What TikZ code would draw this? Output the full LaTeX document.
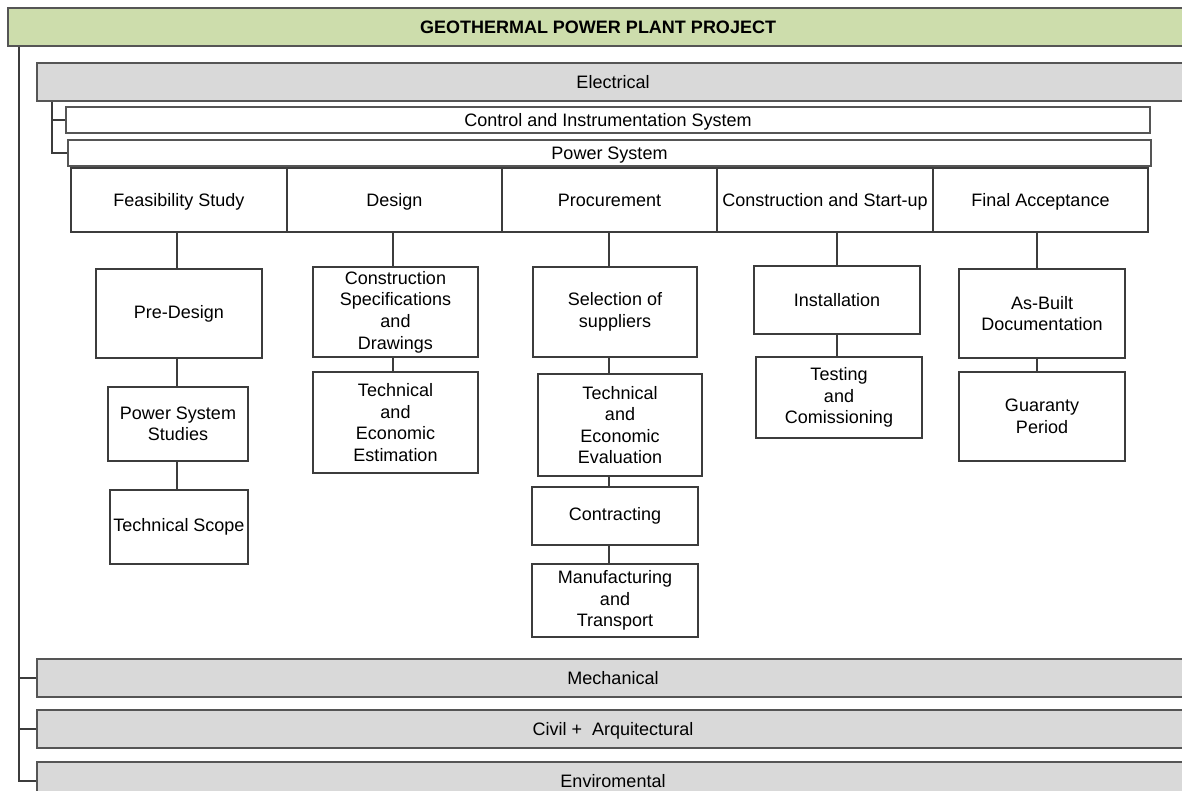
\documentclass[tikz,border=0pt]{standalone}
\usepackage{fontspec}
\setmainfont{Liberation Sans}
\definecolor{lc}{RGB}{60,60,60}
\definecolor{barline}{RGB}{85,85,85}
\definecolor{greenfill}{RGB}{205,221,172}
\definecolor{grayfill}{RGB}{217,217,217}
\tikzset{
  box/.style={draw=lc, line width=0.75pt, fill=white, inner sep=0pt, align=center,
    font=\fontsize{9}{10.8}\selectfont},
  bar/.style={draw=barline, line width=0.9pt, fill=grayfill, inner sep=0pt,
    font=\fontsize{9}{10.8}\selectfont, minimum width=576pt, minimum height=19pt,
    text height=7.4pt, text depth=1pt},
  titlebar/.style={draw=barline, line width=0.9pt, fill=greenfill, inner sep=0pt,
    font=\bfseries\fontsize{9}{10.8}\selectfont, text height=7.4pt, text depth=1pt},
  wide/.style={draw=barline, line width=0.9pt, fill=white, inner sep=0pt,
    font=\fontsize{9}{10.8}\selectfont, text height=7.4pt, text depth=1pt},
  phase/.style={draw=lc, line width=0.75pt, fill=white, inner sep=0pt,
    font=\fontsize{9}{10.8}\selectfont, minimum height=32pt,
    text height=7.4pt, text depth=1pt},
  conn/.style={draw=lc, line width=0.75pt}
}
\begin{document}
\begin{tikzpicture}[x=0.5pt,y=-0.5pt]
\useasboundingbox (0,0) rectangle (1182,791);
\clip (0,0) rectangle (1182,791);
\fill[white] (0,0) rectangle (1182,791);

% top and main bars
\node[titlebar, minimum width=590pt, minimum height=19pt] (proj) at (598,27) {GEOTHERMAL POWER PLANT PROJECT};
\node[bar] (elec) at (613,82) {Electrical};
\node[wide, minimum width=542pt, minimum height=13pt] (ctrl) at (608,120) {Control and Instrumentation System};
\node[wide, minimum width=541.5pt, minimum height=13pt] (psys) at (609.5,153) {Power System};

% phases
\node[phase, minimum width=108pt] (feas) at (179,200) {Feasibility Study};
\node[phase, minimum width=107.5pt] (des) at (394.5,200) {Design};
\node[phase, minimum width=107.5pt] (proc) at (609.5,200) {Procurement};
\node[phase, minimum width=108pt] (cons) at (825,200) {Construction and Start-up};
\node[phase, minimum width=107.5pt] (fin) at (1040.5,200) {Final Acceptance};

% feasibility children
\node[box, minimum width=83pt, minimum height=44.5pt] (pre) at (179,313.5) {Pre-Design};
\node[box, minimum width=70pt, minimum height=37pt] (pss) at (178,424) {Power System\\Studies};
\node[box, minimum width=69pt, minimum height=37pt] (tsc) at (179,527) {Technical Scope};

% design children
\node[box, minimum width=82.5pt, minimum height=45pt] (csd) at (395.5,312) {Construction\\Specifications\\and\\Drawings};
\node[box, minimum width=82.5pt, minimum height=50.5pt] (tee) at (395.5,422.5) {Technical\\and\\Economic\\Estimation};

% procurement children
\node[box, minimum width=82pt, minimum height=45pt] (sel) at (615,312) {Selection of\\suppliers};
\node[box, minimum width=82pt, minimum height=51pt] (tev) at (620,425) {Technical\\and\\Economic\\Evaluation};
\node[box, minimum width=83pt, minimum height=29pt] (con) at (615,516) {Contracting};
\node[box, minimum width=83pt, minimum height=36.5pt] (man) at (615,600.5) {Manufacturing\\and\\Transport};

% construction children
\node[box, minimum width=83pt, minimum height=34pt] (ins) at (837,300) {Installation};
\node[box, minimum width=83pt, minimum height=40.5pt] (tst) at (839,397.5) {Testing\\and\\Comissioning};

% final acceptance children
\node[box, minimum width=83pt, minimum height=44.5pt] (asb) at (1042,313.5) {As-Built\\Documentation};
\node[box, minimum width=83pt, minimum height=44.5pt] (gua) at (1042,416.5) {Guaranty\\Period};

% lower bars
\node[bar] (mech) at (613,678) {Mechanical};
\node[bar] (civ) at (613,729) {Civil +~ Arquitectural};
\node[bar] (env) at (613,781) {Enviromental};

% main trunk
\draw[conn] ([xshift=6pt]proj.south west) |- (mech.west);
\draw[conn] ([xshift=6pt]proj.south west) |- (civ.west);
\draw[conn] ([xshift=6pt]proj.south west) |- (env.west);

% electrical sub trunk
\draw[conn] ([xshift=8pt]elec.south west) |- (ctrl.west);
\draw[conn] ([xshift=8pt]elec.south west) |- (psys.west);

% feasibility
\path (177,0) coordinate (fx);
\draw[conn] (fx |- feas.south) -- (fx |- pre.north);
\draw[conn] (fx |- pre.south) -- (fx |- pss.north);
\draw[conn] (fx |- pss.south) -- (fx |- tsc.north);

% design
\path (393,0) coordinate (dx);
\draw[conn] (dx |- des.south) -- (dx |- csd.north);
\draw[conn] (dx |- csd.south) -- (dx |- tee.north);

% procurement
\path (609,0) coordinate (px);
\draw[conn] (px |- proc.south) -- (px |- sel.north);
\draw[conn] (px |- sel.south) -- (px |- tev.north);
\draw[conn] (px |- tev.south) -- (px |- con.north);
\draw[conn] (px |- con.south) -- (px |- man.north);

% construction
\path (837,0) coordinate (cx);
\draw[conn] (cx |- cons.south) -- (cx |- ins.north);
\draw[conn] (cx |- ins.south) -- (cx |- tst.north);

% final
\path (1037,0) coordinate (ax);
\draw[conn] (ax |- fin.south) -- (ax |- asb.north);
\draw[conn] (ax |- asb.south) -- (ax |- gua.north);
\end{tikzpicture}
\end{document}
